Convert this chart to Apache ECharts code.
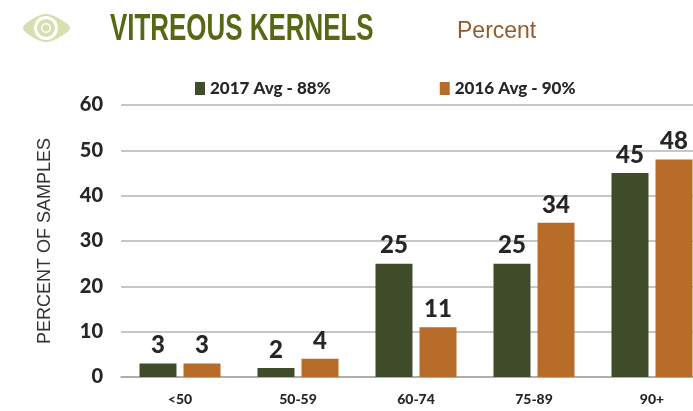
<!DOCTYPE html>
<html><head><meta charset="utf-8">
<style>html,body{margin:0;padding:0;background:#fff;overflow:hidden}#c{width:693px;height:411px}</style>
<script src="https://cdn.jsdelivr.net/npm/echarts@6/dist/echarts.min.js"></script>
</head><body><div id="c"></div>
<script>
const categories = ['<50','50-59','60-74','75-89','90+'];
const values2017 = [3,2,25,25,45];
const values2016 = [3,4,11,34,48];
const seriesNames = ['2017 Avg - 88%','2016 Avg - 90%'];
const yTicks = {min:0,max:60,interval:10};
const chart = echarts.init(document.getElementById('c'),null,{renderer:'canvas'});
const label = {show:true,position:'top',distance:6,fontFamily:'Lato',fontWeight:900,fontSize:24,color:'#262626'};
chart.setOption({
  animation:false,
  backgroundColor:'#fff',
  grid:{left:121,top:105,width:590,height:272,containLabel:false,outerBoundsMode:'none'},
  legend:{left:190,top:75,itemWidth:10,itemHeight:13,itemGap:109,icon:'rect',
    textStyle:{fontFamily:'Lato',fontWeight:900,fontSize:17,color:'#262626'},data:seriesNames},
  xAxis:{type:'category',data:categories,axisTick:{show:false},
    axisLine:{lineStyle:{color:'#a6a6a6',width:1.5}},
    axisLabel:{margin:15,fontFamily:'Lato',fontWeight:900,fontSize:14,color:'#262626'}},
  yAxis:{type:'value',min:yTicks.min,max:yTicks.max,interval:yTicks.interval,
    name:'PERCENT OF SAMPLES',nameLocation:'middle',nameRotate:90,nameGap:67,
    nameTextStyle:{fontFamily:'Liberation Sans',fontSize:18,color:'#333'},
    axisLine:{show:false},axisTick:{show:false},
    splitLine:{lineStyle:{color:'#b5b5b5',width:1.5}},
    axisLabel:{margin:18,fontFamily:'Lato',fontWeight:900,fontSize:20,color:'#262626'}},
  series:[
    {name:seriesNames[0],type:'bar',data:values2017,barWidth:37,barGap:'19%',itemStyle:{color:'#404b29'},label},
    {name:seriesNames[1],type:'bar',data:values2016,barWidth:37,itemStyle:{color:'#b86c2a'},label}
  ],
  graphic:[
    {type:'text',x:110,y:12,scaleX:0.72,style:{text:'VITREOUS KERNELS',fontFamily:'Liberation Sans',fontWeight:'bold',fontSize:36,fill:'#566813'}},
    {type:'text',x:457,y:20,style:{text:'Percent',fontFamily:'Liberation Sans',fontSize:23,fill:'#945a2c'}},
    {type:'polygon',shape:{points:[[23,28],[34,18],[46,14],[58,18],[70,28],[58,38],[46,42],[34,38]],smooth:0.35},style:{fill:'#d6dfae'}},
    {type:'circle',shape:{cx:46,cy:28,r:12},style:{fill:'#fff'}},
    {type:'circle',shape:{cx:46,cy:28,r:9},style:{fill:'#d6dfae'}},
    {type:'circle',shape:{cx:46,cy:28,r:5},style:{fill:'#fff'}},
    {type:'circle',shape:{cx:46,cy:28,r:3.5},style:{fill:'#d6dfae'}}
  ]
});
</script></body></html>
